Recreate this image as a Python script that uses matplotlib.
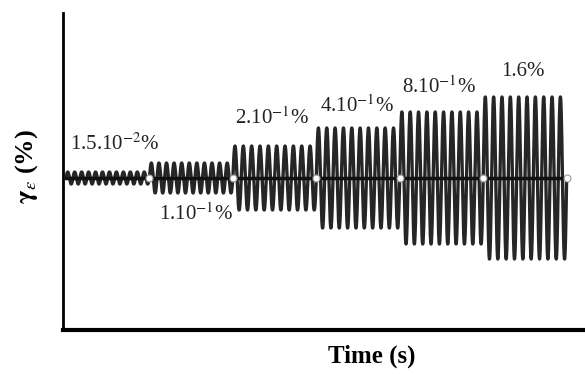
import numpy as np
import matplotlib
matplotlib.use("Agg")
import matplotlib.pyplot as plt

# ---- data (schematic strain steps) ----
strain_labels = ["1.5.10$^{-2}$%", "1.10$^{-1}$%", "2.10$^{-1}$%",
                 "4.10$^{-1}$%", "8.10$^{-1}$%", "1.6%"]
display_amplitude = [6, 15, 32, 50, 66, 81]   # drawn amplitude (schematic units)
cycles_per_step = [12, 11, 10, 10, 10, 10]
step_duration = [1, 1, 1, 1, 1, 1]

# label anchor: (x offset within step, y) in data units
label_pos_x = [0.05, 0.12, 0.02, 0.05, 0.03, 0.22]
label_pos_y = [34, -36, 60, 72, 91, 106]

plt.rcParams['font.family'] = ['Liberation Serif', 'DejaVu Serif']
plt.rcParams['mathtext.fontset'] = 'stix'

fig = plt.figure(figsize=(5.85, 3.74), dpi=100)
ax = fig.add_axes([63/585, 1 - 330/374, 1 - 63/585, 317/374])

t0 = 0.0
bounds = [0.0]
for amp, ncyc, dur in zip(display_amplitude, cycles_per_step, step_duration):
    t = np.linspace(t0, t0 + dur, 4000)
    y = amp * np.sin(2 * np.pi * ncyc * (t - t0) / dur)
    ax.plot(t, y, color='#262626', lw=2.4, solid_capstyle='butt', zorder=2)
    t0 += dur
    bounds.append(t0)

# center line
ax.plot([bounds[0], bounds[-1]], [0, 0], color='#111111', lw=2.5, zorder=3)
# white circles at step boundaries
ax.plot(bounds[1:], [0] * (len(bounds) - 1), 'o', ms=5, mfc='white',
        mec='#999999', mew=0.8, zorder=4)

for i, lab in enumerate(strain_labels):
    ax.text(bounds[i] + label_pos_x[i], label_pos_y[i], lab, fontsize=15,
            color='#222222', ha='left', va='center', zorder=5)

ax.set_xlim(-0.036, 6.22)
ax.set_ylim(-152, 165)
ax.set_xticks([])
ax.set_yticks([])
for s in ['top', 'right']:
    ax.spines[s].set_visible(False)
ax.spines['left'].set_linewidth(2)
ax.spines['bottom'].set_linewidth(3)

fig.text(328/585, 1 - 356/374, "Time (s)", fontsize=18, fontweight='bold',
         ha='left', va='center')
fig.text(27/585, 1 - 167/374, r"$\mathbf{\gamma}_{\varepsilon}$ (%)",
         fontsize=19, fontweight='bold', rotation=90, ha='center', va='center')

fig.savefig("out.png", dpi=100)
